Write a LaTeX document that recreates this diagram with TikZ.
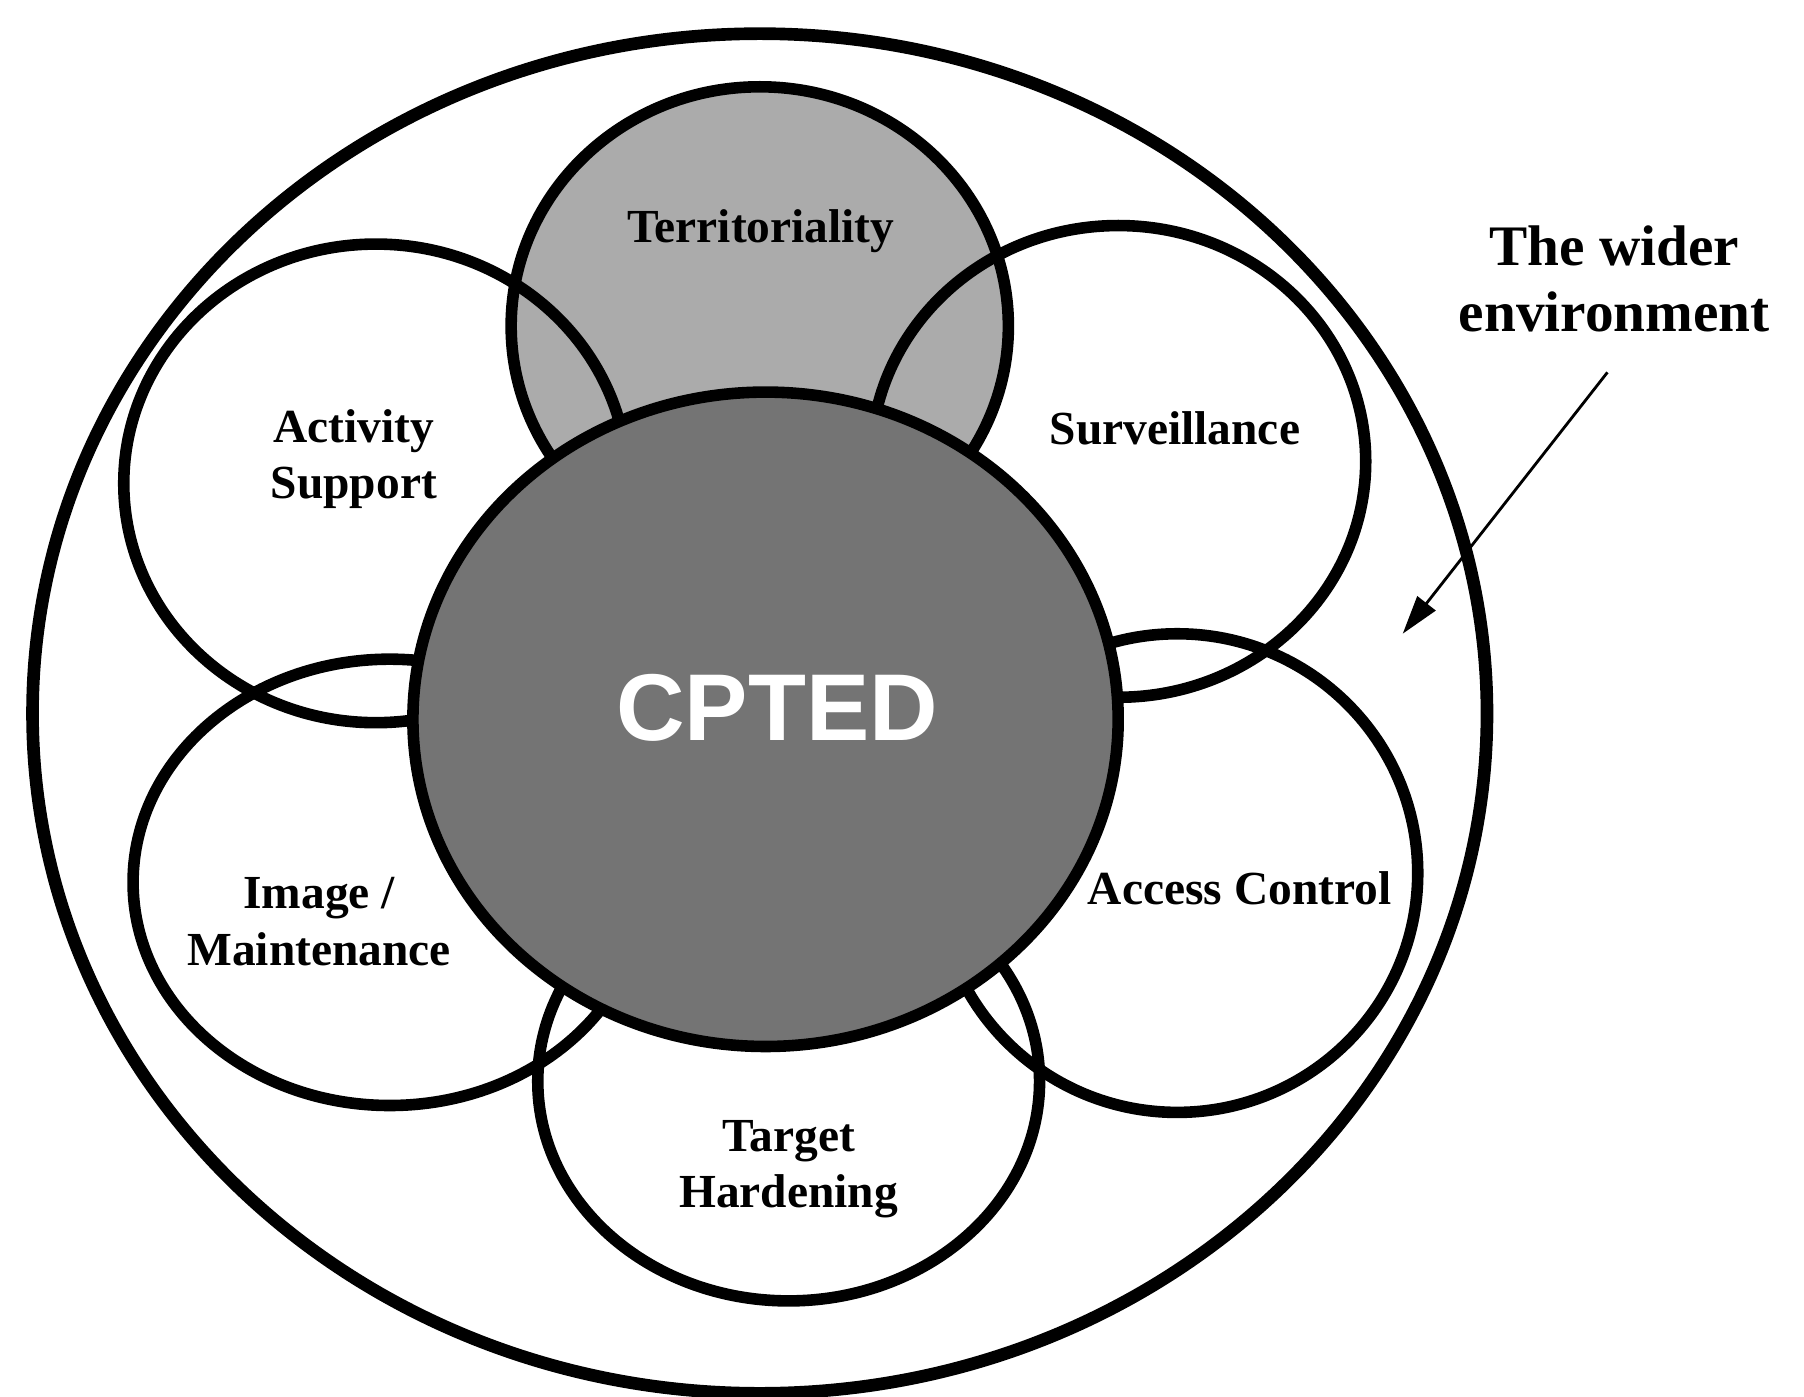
\documentclass[tikz,border=0pt]{standalone}
\usepackage{fontspec}
\setmainfont{Liberation Serif}
\newfontfamily\cptedfont{Liberation Sans}
\usetikzlibrary{shapes.geometric,arrows.meta}
\definecolor{cpgray}{RGB}{116,116,116}
\definecolor{tergray}{RGB}{171,171,171}
\begin{document}
\begin{tikzpicture}[x=0.011564cm,y=-0.011564cm,
  ring/.style={ellipse, draw=black, line width=3.3pt, inner sep=0pt},
  lbl/.style={font=\bfseries\fontsize{13.5}{16}\selectfont, align=center, inner sep=0pt},
  biglbl/.style={font=\bfseries\fontsize{16.3}{18.7}\selectfont, align=center, inner sep=0pt},
]
\useasboundingbox (0,0) rectangle (1560,1208);
% outer ellipse
\node[ring, line width=3.6pt, minimum width=14.547cm, minimum height=13.599cm] (outer) at (657,617) {};
% territoriality
\node[ring, fill=tergray, minimum width=4.973cm, minimum height=4.787cm] (terr) at (657,282) {};
% other rings
\node[ring, minimum width=5.042cm, minimum height=4.787cm] (act) at (325,418) {};
\node[ring, minimum width=4.950cm, minimum height=4.718cm] (surv) at (967,399) {};
\node[ring, minimum width=4.811cm, minimum height=4.787cm] (acc) at (1018,755) {};
\node[ring, minimum width=5.019cm, minimum height=4.394cm] (targ) at (682,935) {};
\node[ring, minimum width=5.134cm, minimum height=4.464cm] (img) at (337,763) {};
% CPTED core
\node[ring, fill=cpgray, minimum width=7.054cm, minimum height=6.545cm] (core) at (662,622) {};
% labels
\node[lbl] (tterr) at (658,200) {Territoriality};
\node[lbl] (tact) at (306,397) {Activity\\Support};
\node[lbl] (tsurv) at (1016,370) {Surveillance};
\node[lbl] (timg) at (276,797) {Image /\\Maintenance};
\node[lbl] (tacc) at (1072,768) {Access Control};
\node[lbl] (ttarg) at (682,1011) {Target\\Hardening};
\node[font=\cptedfont\bfseries\fontsize{27}{30}\selectfont, text=white, inner sep=0pt] (tcore) at (672,612) {CPTED};
\node[biglbl] (twide) at (1396,241) {The wider\\environment};
% arrow
\coordinate (astart) at (1390,322);
\coordinate (atip) at (1213,548);
\draw[line width=0.8pt, -{Triangle[length=11pt,width=6.5pt]}] (astart) -- (atip);
\end{tikzpicture}
\end{document}
